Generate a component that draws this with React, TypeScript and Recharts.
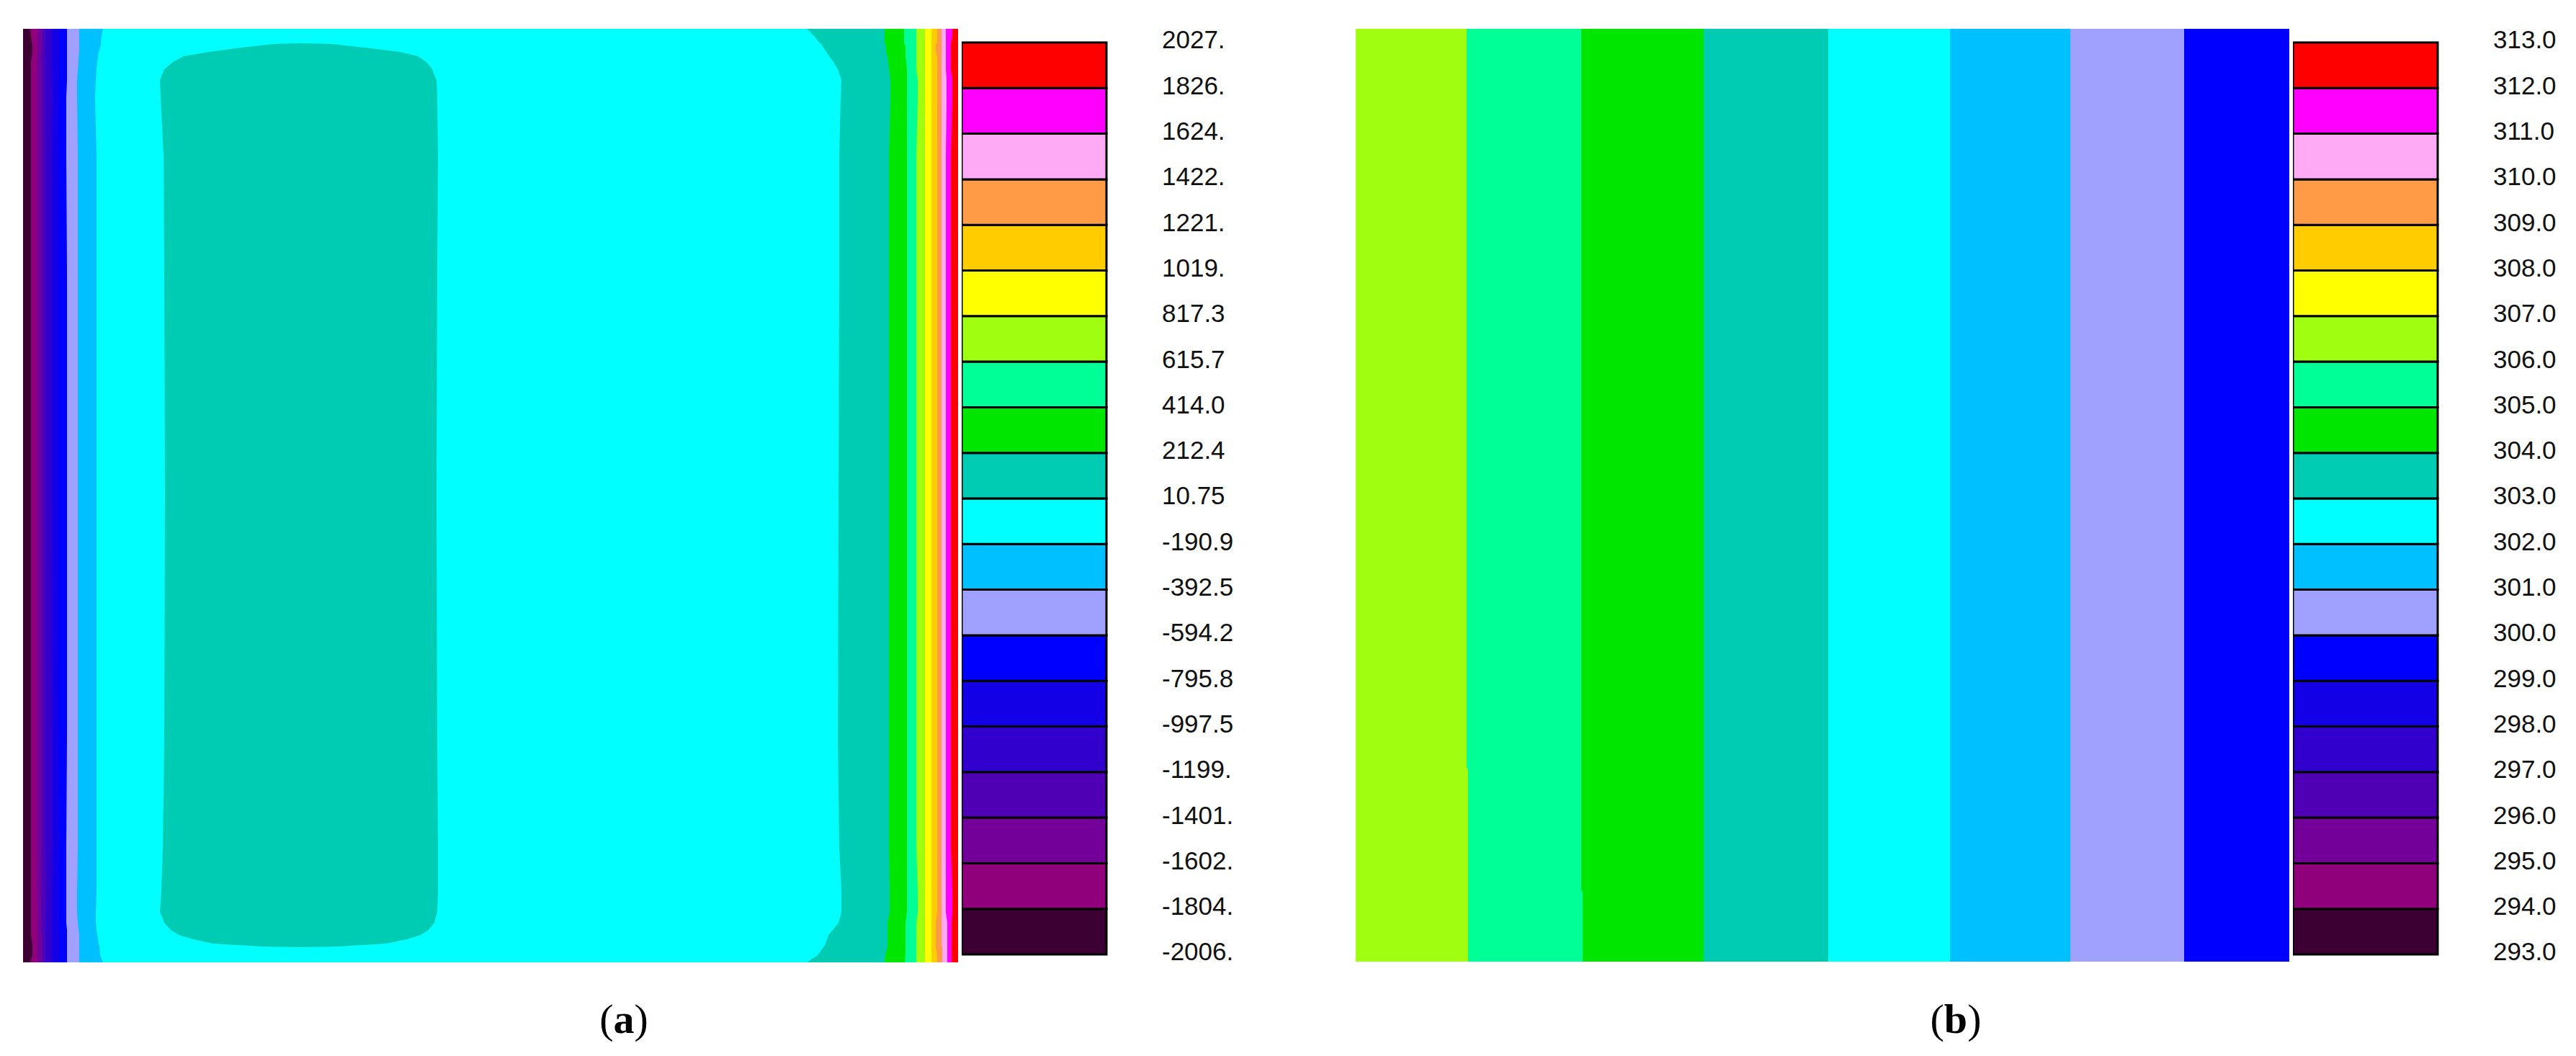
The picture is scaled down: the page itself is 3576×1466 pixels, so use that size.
import React from "react";
import { ComposedChart, Area, Bar, XAxis, YAxis } from "recharts";

// ---- panel (a): contour bands, right edge of each band per sampled row ----
const A_W = 1298;
const A_H = 1296;
const rowsA = [0, 10, 21, 22, 26, 32, 38, 45, 55, 70, 100, 160, 310, 648, 960, 1120, 1200, 1225, 1240, 1250, 1258, 1264, 1270, 1275, 1276, 1286, 1296];

const edgeDark = [10, 13, 13, 13, 13, 12, 11, 11, 11, 11, 11, 11, 11, 11, 11, 11, 11, 11, 11, 11, 12, 13, 13, 13, 12, 11, 10];
const edgeWine = [20, 20, 20, 20, 20, 20, 20, 20, 20, 20, 19, 19, 19, 19, 19, 19, 19, 19, 19, 19, 20, 20, 20, 20, 20, 20, 20];
const edgePurple = [26, 26, 26, 26, 26, 26, 26, 25, 25, 25, 25, 25, 25, 25, 25, 25, 25, 25, 25, 25, 25, 25, 26, 26, 26, 26, 26];
const edgeViolet = [31, 31, 31, 31, 31, 31, 31, 31, 31, 31, 32, 31, 31, 31, 31, 31, 31, 31, 31, 31, 31, 31, 31, 31, 31, 31, 31];
const edgeIndigo = [40, 40, 40, 40, 40, 40, 40, 40, 40, 40, 40, 41, 41, 40, 40, 40, 41, 41, 40, 40, 40, 40, 40, 40, 40, 40, 40];
const edgeRoyal = [50, 50, 50, 50, 50, 50, 50, 50, 50, 50, 50, 50, 49, 49, 49, 49, 49, 50, 50, 50, 50, 50, 50, 50, 50, 50, 50];
const edgeBlue = [61, 61, 61, 61, 61, 61, 61, 61, 60, 60, 60, 60, 61, 61, 61, 60, 60, 61, 61, 61, 61, 61, 61, 61, 61, 61, 61];
const edgeLavender = [78, 78, 78, 78, 78, 78, 78, 77, 76, 75, 75, 76, 76, 76, 76, 76, 75, 75, 76, 77, 77, 78, 78, 78, 78, 78, 78];
const edgeSky = [111, 107, 106, 106, 105, 104, 103, 102, 101, 101, 102, 102, 102, 102, 102, 102, 100, 101, 102, 103, 104, 105, 107, 108, 108, 109, 111];
const edgeCyanL = [384, 384, 384, 331, 264, 236, 216, 205, 196, 190, 192, 194, 196, 197, 196, 195, 191, 190, 196, 208, 223, 258, 303, 348, 384, 384, 384];
const edgeCore = [384, 384, 384, 438, 503, 533, 552, 563, 571, 575, 576, 576, 575, 574, 575, 576, 575, 574, 568, 560, 548, 523, 473, 428, 384, 384, 384];
const edgeCyanR = [1088, 1103, 1111, 1112, 1114, 1116, 1118, 1124, 1132, 1136, 1136, 1133, 1131, 1132, 1133, 1133, 1135, 1136, 1131, 1125, 1119, 1115, 1111, 1108, 1106, 1098, 1088];
const edgeTeal = [1196, 1197, 1200, 1200, 1200, 1200, 1200, 1200, 1200, 1203, 1203, 1202, 1202, 1202, 1202, 1202, 1204, 1204, 1202, 1201, 1200, 1198, 1198, 1197, 1196, 1196, 1196];
const edgeGreen = [1224, 1225, 1225, 1225, 1225, 1225, 1225, 1225, 1225, 1227, 1227, 1227, 1227, 1227, 1227, 1227, 1227, 1227, 1227, 1226, 1225, 1225, 1225, 1224, 1223, 1223, 1223];
const edgeSpring = [1240, 1240, 1240, 1240, 1240, 1240, 1240, 1240, 1240, 1242, 1242, 1240, 1240, 1240, 1240, 1240, 1242, 1242, 1240, 1240, 1240, 1240, 1240, 1240, 1240, 1240, 1240];
const edgeLime = [1252, 1252, 1252, 1252, 1252, 1252, 1252, 1252, 1252, 1252, 1252, 1252, 1252, 1252, 1252, 1252, 1252, 1252, 1252, 1252, 1252, 1252, 1252, 1252, 1252, 1252, 1252];
const edgeYellow = [1261, 1261, 1261, 1261, 1261, 1261, 1261, 1261, 1261, 1261, 1261, 1261, 1261, 1261, 1261, 1261, 1261, 1261, 1261, 1261, 1261, 1261, 1261, 1261, 1261, 1261, 1261];
const edgeGold = [1269, 1269, 1267, 1267, 1267, 1267, 1267, 1267, 1267, 1269, 1269, 1269, 1269, 1269, 1269, 1269, 1269, 1269, 1269, 1269, 1269, 1267, 1267, 1267, 1269, 1269, 1269];
const edgeOrange = [1276, 1276, 1276, 1275, 1275, 1275, 1275, 1275, 1275, 1275, 1275, 1275, 1275, 1275, 1275, 1275, 1275, 1275, 1275, 1275, 1275, 1275, 1275, 1275, 1275, 1275, 1275];
const edgePink = [1283, 1283, 1283, 1283, 1283, 1283, 1283, 1283, 1283, 1281, 1281, 1281, 1281, 1281, 1281, 1281, 1282, 1282, 1281, 1281, 1281, 1281, 1281, 1281, 1281, 1281, 1281];
const edgeMagenta = [1289, 1289, 1289, 1289, 1289, 1289, 1289, 1289, 1289, 1290, 1290, 1288, 1288, 1288, 1288, 1288, 1290, 1290, 1288, 1288, 1288, 1288, 1288, 1288, 1288, 1290, 1290];

// ---- panel (b): vertical strips ----
const B_W = 1296;
const B_H = 1295;
const rowsB = [0, 97, 98, 268, 269, 1295];
const edgeBLime = [156, 156, 156, 156, 154, 154];
const edgeBSpring = [315, 315, 313, 313, 313, 313];
const edgeBGreen = [483, 483, 483, 483, 483, 483];
const edgeBTeal = [656, 656, 656, 656, 656, 656];
const edgeBCyan = [825, 825, 825, 825, 825, 825];
const edgeBSky = [992, 992, 992, 992, 992, 992];
const edgeBLavender = [1150, 1150, 1150, 1150, 1150, 1150];

// ---- colour scale (top to bottom) and labels ----
const scaleColors = [
  "#FF0000", "#FF00FF", "#FFAAF5", "#FF9A46", "#FFCC00", "#FFFF00", "#A0FF10",
  "#00FF96", "#00E600", "#00CCB4", "#00FFFF", "#00C0FF", "#A0A0FF", "#0000FF",
  "#1400E6", "#3200CD", "#5000B4", "#730099", "#91007B", "#3C0032",
];
const labelsA = [
  "2027.", "1826.", "1624.", "1422.", "1221.", "1019.", "817.3", "615.7", "414.0", "212.4", "10.75",
  "-190.9", "-392.5", "-594.2", "-795.8", "-997.5", "-1199.", "-1401.", "-1602.", "-1804.", "-2006.",
];
const labelsB = [
  "313.0", "312.0", "311.0", "310.0", "309.0", "308.0", "307.0", "306.0", "305.0", "304.0", "303.0",
  "302.0", "301.0", "300.0", "299.0", "298.0", "297.0", "296.0", "295.0", "294.0", "293.0",
];

const bandsA = [
  { key: "dark", color: "#3C0032", edge: edgeDark },
  { key: "wine", color: "#91007B", edge: edgeWine },
  { key: "purple", color: "#730099", edge: edgePurple },
  { key: "violet", color: "#5000B4", edge: edgeViolet },
  { key: "indigo", color: "#3200CD", edge: edgeIndigo },
  { key: "royal", color: "#1400E6", edge: edgeRoyal },
  { key: "blue", color: "#0000FF", edge: edgeBlue },
  { key: "lavender", color: "#A0A0FF", edge: edgeLavender },
  { key: "sky", color: "#00C0FF", edge: edgeSky },
  { key: "cyanL", color: "#00FFFF", edge: edgeCyanL },
  { key: "core", color: "#00CCB4", edge: edgeCore },
  { key: "cyanR", color: "#00FFFF", edge: edgeCyanR },
  { key: "teal", color: "#00CCB4", edge: edgeTeal },
  { key: "green", color: "#00E600", edge: edgeGreen },
  { key: "spring", color: "#00FF96", edge: edgeSpring },
  { key: "lime", color: "#A0FF10", edge: edgeLime },
  { key: "yellow", color: "#FFFF00", edge: edgeYellow },
  { key: "gold", color: "#FFCC00", edge: edgeGold },
  { key: "orange", color: "#FF9A46", edge: edgeOrange },
  { key: "pink", color: "#FFAAF5", edge: edgePink },
  { key: "magenta", color: "#FF00FF", edge: edgeMagenta },
  { key: "red", color: "#FF0000", edge: null as number[] | null },
];

const bandsB = [
  { key: "lime", color: "#A0FF10", edge: edgeBLime },
  { key: "spring", color: "#00FF96", edge: edgeBSpring },
  { key: "green", color: "#00E600", edge: edgeBGreen },
  { key: "teal", color: "#00CCB4", edge: edgeBTeal },
  { key: "cyan", color: "#00FFFF", edge: edgeBCyan },
  { key: "sky", color: "#00C0FF", edge: edgeBSky },
  { key: "lavender", color: "#A0A0FF", edge: edgeBLavender },
  { key: "blue", color: "#0000FF", edge: null as number[] | null },
];

const buildRows = (rows: number[], bands: typeof bandsA, full: number) =>
  rows.map((y, i) => {
    const r: Record<string, number> = { y };
    bands.forEach((b) => {
      r[b.key] = b.edge ? b.edge[i] : full;
    });
    return r;
  });

const dataA = buildRows(rowsA, bandsA, A_W);
const dataB = buildRows(rowsB, bandsB, B_W);

const LABEL_FONT = "'Liberation Sans', Arial, sans-serif";

// rightmost band painted first, each band fills from the left edge to its own right edge
const ContourPanel = ({ data, bands, w, h }: { data: any[]; bands: typeof bandsA; w: number; h: number }) => (
  <ComposedChart layout="vertical" width={w} height={h} data={data} margin={{ top: 0, right: 0, bottom: 0, left: 0 }}>
    <XAxis type="number" domain={[0, w]} hide allowDataOverflow />
    <YAxis type="number" dataKey="y" domain={[0, h]} reversed hide allowDataOverflow />
    {[...bands].reverse().map((b) => (
      <Area
        key={b.key}
        dataKey={b.key}
        type="linear"
        baseValue={0}
        fill={b.color}
        fillOpacity={1}
        stroke="none"
        dot={false}
        activeDot={false}
        isAnimationActive={false}
      />
    ))}
  </ComposedChart>
);

const legendRow = [
  scaleColors.reduce((acc: Record<string, any>, _c, i) => {
    acc[`s${i}`] = 1;
    return acc;
  }, { name: "scale" }),
];

const ColorScale = ({ labels }: { labels: string[] }) => {
  const bottomUp = [...scaleColors].reverse();
  const renderTick = (props: any) => (
    <text
      x={props.x}
      y={props.y - 4}
      dy="0.355em"
      textAnchor="start"
      fontFamily={LABEL_FONT}
      fontSize={35}
      fill="#111"
    >
      {labels[20 - props.payload.value]}
    </text>
  );
  return (
    <ComposedChart
      width={401}
      height={1346}
      data={legendRow}
      margin={{ top: 40, right: 0, bottom: 40, left: 0 }}
      barCategoryGap={0}
      barGap={0}
    >
      <XAxis type="category" dataKey="name" hide />
      <YAxis
        type="number"
        orientation="right"
        domain={[0, 20]}
        ticks={[0, 1, 2, 3, 4, 5, 6, 7, 8, 9, 10, 11, 12, 13, 14, 15, 16, 17, 18, 19, 20]}
        width={200}
        axisLine={false}
        tickLine={false}
        tickSize={0}
        tickMargin={77}
        tick={renderTick}
        interval={0}
      />
      {bottomUp.map((c, i) => (
        <Bar
          key={i}
          dataKey={`s${19 - i}`}
          stackId="scale"
          fill={c}
          stroke="#000"
          strokeWidth={3}
          isAnimationActive={false}
        />
      ))}
    </ComposedChart>
  );
};

const abs = (left: number, top: number): React.CSSProperties => ({ position: "absolute", left, top });

const Caption = ({ letter, center }: { letter: string; center: number }) => (
  <div
    style={{
      position: "absolute",
      left: center - 150,
      top: 1380,
      width: 300,
      textAlign: "center",
      fontFamily: "'Liberation Serif', 'Times New Roman', serif",
      fontSize: 58,
      lineHeight: "70px",
      color: "#000",
    }}
  >
    (<b>{letter}</b>)
  </div>
);

export default function App() {
  return (
    <div style={{ position: "absolute", left: 0, top: 0, width: 3576, height: 1466, background: "#fff", overflow: "hidden" }}>
      <div style={abs(32, 40)}>
        <ContourPanel data={dataA} bands={bandsA} w={A_W} h={A_H} />
      </div>
      <div style={abs(1335, 19)}>
        <ColorScale labels={labelsA} />
      </div>
      <div style={abs(1882, 40)}>
        <ContourPanel data={dataB} bands={bandsB} w={B_W} h={B_H} />
      </div>
      <div style={abs(3183, 19)}>
        <ColorScale labels={labelsB} />
      </div>
      <Caption letter="a" center={866} />
      <Caption letter="b" center={2715} />
    </div>
  );
}
